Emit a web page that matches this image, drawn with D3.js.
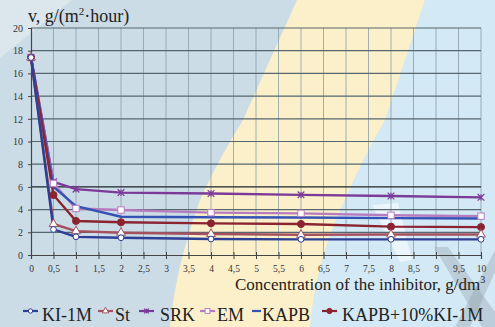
<!DOCTYPE html>
<html>
<head>
<meta charset="utf-8">
<script src="https://cdn.jsdelivr.net/npm/d3@7"></script>
<style>
  html, body { margin: 0; padding: 0; background: #cddde7; }
  svg { display: block; }
  text { font-family: "Liberation Serif", "Times New Roman", serif; }
</style>
</head>
<body>
<svg id="chart" width="495" height="327"></svg>
<script>
// Corrosion rate vs. inhibitor concentration
const concentration = [0, 0.5, 1, 2, 4, 6, 8, 10];
const ki1m      = [17.4, 2.25, 1.6, 1.52, 1.41, 1.38, 1.38, 1.38];
const st        = [17.4, 2.73, 2.1, 1.96, 1.85, 1.78, 1.8, 1.8];
const srk       = [17.4, 6.45, 5.8, 5.5, 5.42, 5.3, 5.2, 5.08];
const em        = [17.4, 6.3, 4.1, 3.96, 3.73, 3.67, 3.5, 3.42];
const kapb      = [17.4, 6.0, 4.3, 3.37, 3.33, 3.3, 3.25, 3.22];
const kapbKi    = [17.4, 5.29, 3.0, 2.88, 2.79, 2.73, 2.5, 2.46];
const seriesNames = ["KI-1M", "St", "SRK", "EM", "KAPB", "KAPB+10%KI-1M"];
const xTicks = d3.range(0, 10.01, 0.5);
const yTicks = d3.range(0, 20.01, 2);

const seriesStyle = [
  { values: ki1m,   color: "#2c3f94", marker: "circle",   fill: "#ffffff" },
  { values: st,     color: "#a4505e", marker: "triangle", fill: "#ffffff" },
  { values: srk,    color: "#7b3a98", marker: "cross",    fill: "none" },
  { values: em,     color: "#b77bbf", marker: "square",   fill: "#ffffff" },
  { values: kapb,   color: "#3352b4", marker: "none",     fill: "none" },
  { values: kapbKi, color: "#8a2430", marker: "dot",      fill: "#8a2430" }
];

const svg = d3.select("#chart");
const W = 495, H = 327;

// background bands
const bg = svg.append("g");
bg.append("rect").attr("width", W).attr("height", H).attr("fill", "#cbdce7");
bg.append("path").attr("fill", "#e6edf1").attr("opacity", 0.6)
  .attr("d", "M0,0 L72,0 L0,58 Z");
bg.append("path").attr("fill", "#d3e9f5")
  .attr("d", "M425,0 L495,0 L495,327 L310,327 Q316,260 345,200 Q362,160 385,120 Z");
bg.append("path").attr("fill", "#fcf0ca")
  .attr("d", "M297,0 L425,0 L385,120 Q362,160 345,200 Q316,260 310,327 L170,327 Q175,270 200,200 Q218,160 243,120 Z");
bg.append("path").attr("fill", "#ffffff").attr("opacity", 0.55)
  .attr("d", "M372,205 L398,203 L412,260 L400,262 Z");
bg.append("path").attr("fill", "#8e9aa3").attr("opacity", 0.35)
  .attr("d", "M434,247 L448,247 L495,312 L495,327 L482,327 Z");
bg.append("path").attr("fill", "#8e9aa3").attr("opacity", 0.35)
  .attr("d", "M495,250 L495,272 L470,327 L455,327 Z");

const x = d3.scaleLinear().domain([0, 10]).range([31, 481]);
const y = d3.scaleLinear().domain([0, 20]).range([255, 28]);

// grid
const grid = svg.append("g");
grid.selectAll("line.v").data(xTicks.slice(1)).join("line")
  .attr("x1", d => x(d)).attr("x2", d => x(d))
  .attr("y1", y(20)).attr("y2", y(0))
  .attr("stroke", "#8c9ea9").attr("stroke-width", 1).attr("opacity", 0.8);
grid.selectAll("line.h").data(yTicks.slice(1)).join("line")
  .attr("x1", x(0)).attr("x2", x(10))
  .attr("y1", d => y(d)).attr("y2", d => y(d))
  .attr("stroke", d => d === 6 ? "#1e2428" : "#56666f")
  .attr("stroke-width", 1.2);

// axes
const fmt = d => String(d).replace(".", ",");
const xAxis = svg.append("g").attr("transform", `translate(0,${y(0)})`)
  .call(d3.axisBottom(x).tickValues(xTicks).tickFormat(fmt).tickSize(4).tickPadding(6));
xAxis.select(".domain").attr("stroke", "#444").attr("stroke-width", 1.2);
xAxis.selectAll(".tick line").attr("stroke", "#444").attr("y1", -3);
xAxis.selectAll(".tick text").attr("font-size", 9.5).attr("fill", "#333");

const yAxis = svg.append("g").attr("transform", `translate(${x(0)},0)`)
  .call(d3.axisLeft(y).tickValues(yTicks).tickSize(3).tickPadding(5));
yAxis.select(".domain").attr("stroke", "#444").attr("stroke-width", 1.2);
yAxis.selectAll(".tick line").attr("stroke", "#444");
yAxis.selectAll(".tick text").attr("font-size", 10).attr("fill", "#333");

// titles
const t = svg.append("text").attr("x", 28).attr("y", 22).attr("font-size", 18).attr("fill", "#222");
t.append("tspan").text("v, g/(m");
t.append("tspan").text("2").attr("font-size", 11).attr("dy", -7);
t.append("tspan").text("·hour)").attr("dy", 7);

const xl = svg.append("text").attr("x", 235).attr("y", 290).attr("font-size", 17).attr("fill", "#222");
xl.append("tspan").text("Concentration of the inhibitor, g/dm");
xl.append("tspan").text("3").attr("font-size", 10).attr("dy", -7);

// markers
function drawMarker(g, type, color, fill, cx, cy, s) {
  if (type === "circle" || type === "dot") {
    g.append("circle").attr("cx", cx).attr("cy", cy).attr("r", type === "dot" ? s * 1.1 : s * 0.9)
      .attr("fill", fill).attr("stroke", color).attr("stroke-width", 1);
  } else if (type === "square") {
    g.append("rect").attr("x", cx - s).attr("y", cy - s).attr("width", 2 * s).attr("height", 2 * s)
      .attr("fill", fill).attr("stroke", color).attr("stroke-width", 1);
  } else if (type === "triangle") {
    g.append("path").attr("d", d3.symbol(d3.symbolTriangle, s * s * 3.2)())
      .attr("transform", `translate(${cx},${cy})`)
      .attr("fill", fill).attr("stroke", color).attr("stroke-width", 1);
  } else if (type === "cross") {
    g.append("path").attr("d", d3.symbol(d3.symbolTimes, s * s * 3)())
      .attr("transform", `translate(${cx},${cy})`)
      .attr("fill", "none").attr("stroke", color).attr("stroke-width", 1.2);
    g.append("line").attr("x1", cx).attr("x2", cx).attr("y1", cy - s).attr("y2", cy + s)
      .attr("stroke", color).attr("stroke-width", 1.2);
  }
}

const line = d3.line().x((d, i) => x(concentration[i])).y(d => y(d));
const plot = svg.append("g");
const drawOrder = [2, 3, 4, 5, 1, 0];
drawOrder.forEach(k => {
  const s = seriesStyle[k];
  plot.append("path").datum(s.values).attr("d", line)
    .attr("fill", "none").attr("stroke", s.color).attr("stroke-width", 2.4)
    .attr("stroke-linejoin", "round");
});
drawOrder.forEach(k => {
  const s = seriesStyle[k];
  const g = plot.append("g");
  s.values.forEach((v, i) => {
    if (s.marker !== "none") drawMarker(g, s.marker, s.color, s.fill, x(concentration[i]), y(v), 3.2);
  });
});

// legend
const legendPos = [
  { lx: 23, tx: 42 }, { lx: 98, tx: 115 }, { lx: 139, tx: 160 },
  { lx: 200, tx: 217 }, { lx: 252, tx: 262 }, { lx: 322, tx: 342 }
];
const leg = svg.append("g");
const ly = 316;
seriesNames.forEach((name, k) => {
  const s = seriesStyle[k];
  const p = legendPos[k];
  const len = k === 4 ? 9 : 15;
  leg.append("line").attr("x1", p.lx).attr("x2", p.lx + len).attr("y1", ly - 5).attr("y2", ly - 5)
    .attr("stroke", s.color).attr("stroke-width", 2.2);
  if (s.marker !== "none") drawMarker(leg, s.marker, s.color, s.fill, p.lx + len / 2, ly - 5, 2.4);
  leg.append("text").attr("x", p.tx).attr("y", ly + 5).attr("font-size", 18).attr("fill", "#222").text(name);
});
</script>
</body>
</html>
